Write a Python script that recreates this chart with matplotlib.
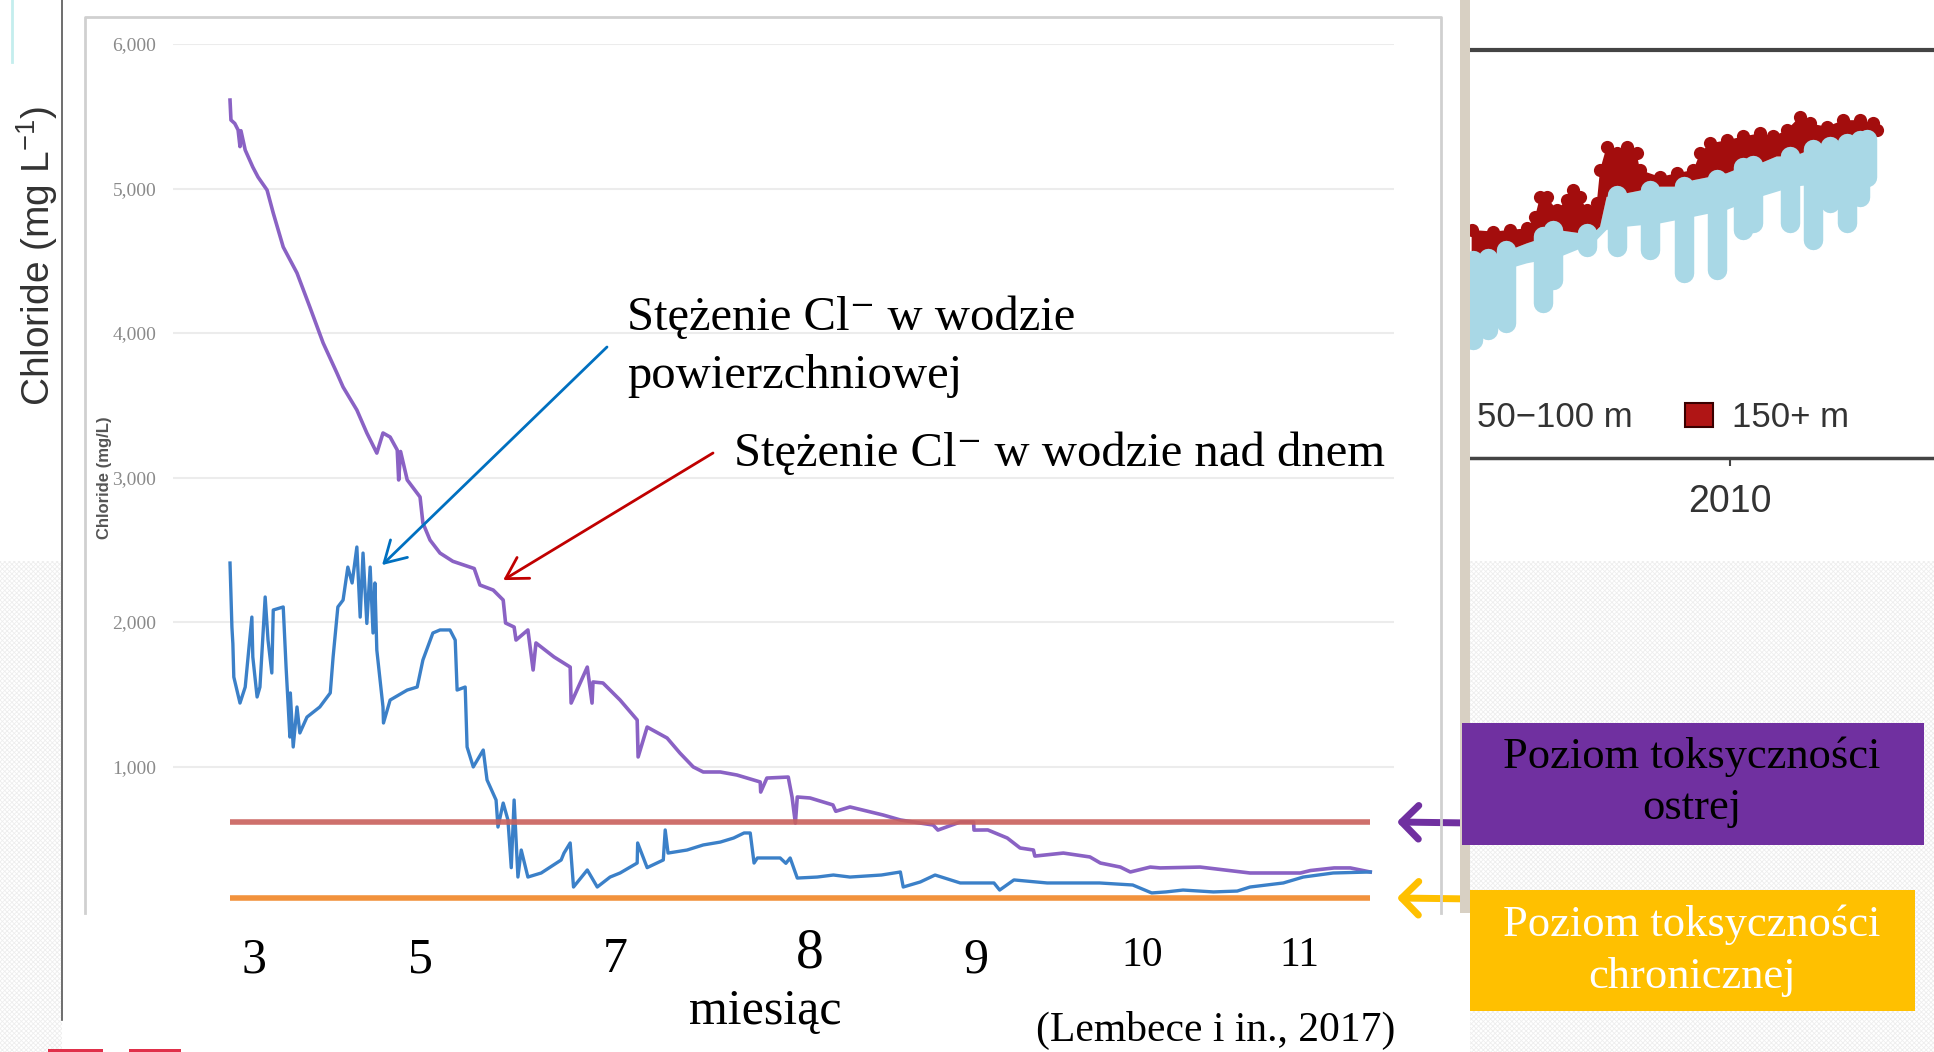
import matplotlib
matplotlib.use('Agg')
import matplotlib.pyplot as plt
import numpy as np
from matplotlib.patches import Rectangle
from matplotlib.lines import Line2D
from matplotlib.transforms import blended_transform_factory

plt.rcParams['mathtext.fontset'] = 'custom'
plt.rcParams['mathtext.rm'] = 'Liberation Sans'
plt.rcParams['mathtext.default'] = 'rm'
plt.rcParams['hatch.linewidth'] = 0.6

SERIF = ['Liberation Serif', 'DejaVu Serif']
SANS = ['Liberation Sans', 'DejaVu Sans']

# --- main chart: chloride (mg/L) vs day of record ---
bottom_days = [0, 0.2, 1, 1.7, 2.1, 2.3, 3.2, 4.8, 5.9, 7.8, 9.1, 11.2, 14.1, 16.8, 19.6, 22.5, 23.8,
               26.7, 28.8, 30.9, 32.2, 33.7, 35.2, 35.5, 35.9, 37.3, 40, 40.6, 42.1, 44.2, 46.9, 51.4,
               52.6, 55.4, 57.5, 58, 59.8, 60.2, 62.7, 63.8, 64.4, 68.2, 71.6, 71.8, 75.2, 76.2, 76.4,
               78.5, 82.1, 85.7, 85.9, 87.8, 92, 94.7, 97.5, 99.6, 103.2, 106.7, 111.6, 111.7, 113,
               117.5, 118.3, 119, 119.4, 122.1, 126.9, 127.5, 130.5, 137.5, 141.1, 143.8, 148, 149,
               153.7, 156.5, 156.6, 159.5, 163.6, 166.3, 169.1, 169.4, 175.4, 181, 183.2, 187.4,
               189.5, 193.7, 195.8, 204.2, 214.7, 225.3, 227.4, 232.4, 235.8, 240]
bottom_cl = [5612, 5474, 5450, 5405, 5290, 5400, 5266, 5148, 5079, 4989, 4830, 4595, 4415, 4180, 3931,
             3723, 3626, 3467, 3308, 3169, 3308, 3280, 3190, 2983, 3180, 2983, 2865, 2685, 2567, 2477,
             2420, 2370, 2256, 2221, 2152, 1993, 1965, 1875, 1945, 1668, 1855, 1758, 1688, 1439, 1688,
             1439, 1585, 1578, 1460, 1322, 1066, 1273, 1197, 1093, 997, 962, 962, 941, 893, 823, 920,
             927, 789, 609, 789, 782, 734, 690, 720, 664, 630, 616, 595, 560, 616, 616, 560, 561, 505,
             436, 422, 380, 401, 374, 332, 304, 270, 304, 298, 304, 263, 263, 280, 298, 298, 270]

surface_days = [0, 0.4, 0.6, 0.8, 2.1, 3.2, 4.6, 4.8, 5.7, 6.3, 7.4, 8, 8.8, 9.1, 11.2, 11.8, 12.6, 12.7,
                13.3, 14.1, 14.7, 16.2, 18.9, 21.1, 21.7, 22.7, 23.8, 24.8, 25.7, 26.7, 27.4, 28, 28.8,
                29.5, 30.1, 30.5, 30.9, 32.2, 32.3, 33.7, 37.3, 39.4, 40.6, 42.7, 44.2, 46.3, 47.4, 47.8,
                49.5, 49.9, 51.2, 53.3, 54.1, 56, 56.4, 57.5, 58.5, 59.2, 59.8, 60.6, 61.3, 62.7, 65.5,
                69.7, 70.3, 71.6, 72.3, 75.2, 77.3, 80, 82.1, 85.7, 85.8, 87.8, 91.2, 91.6, 92.2, 96.2,
                99.6, 103.2, 106, 108.2, 109.5, 110.3, 111, 115.8, 117, 117.9, 119.4, 123.6, 127, 130.5,
                137.1, 141.1, 141.7, 145.3, 148.4, 153.7, 160.8, 162, 165, 172, 179, 183, 190, 194, 197,
                200.6, 207, 212, 214.7, 221.7, 225.9, 232.2, 240]
surface_cl = [2408, 1965, 1850, 1619, 1439, 1550, 2034, 1758, 1481, 1550, 2173, 1875, 1647, 2083, 2104,
              1688, 1204, 1509, 1135, 1412, 1232, 1342, 1412, 1509, 1758, 2104, 2152, 2380, 2270, 2519,
              2034, 2477, 1990, 2380, 1924, 2270, 1806, 1412, 1301, 1460, 1529, 1550, 1737, 1924, 1945,
              1945, 1875, 1529, 1550, 1135, 997, 1114, 907, 768, 581, 747, 630, 300, 768, 235, 422, 235,
              263, 353, 401, 471, 166, 284, 166, 235, 263, 332, 471, 300, 353, 561, 401, 422, 457, 477,
              505, 540, 540, 332, 367, 367, 330, 367, 228, 235, 249, 235, 249, 270, 166, 201, 249, 194,
              194, 145, 215, 194, 194, 194, 180, 125, 132, 145, 132, 138, 166, 194, 235, 263, 270]

acute_level = 616
chronic_level = 90

month_days = [5, 40, 81, 122, 157, 192, 225]
month_labels = ['3', '5', '7', '8', '9', '10', '11']
cl_ticks = [1000, 2000, 3000, 4000, 5000, 6000]

# --- cropped panel on the right: two depth classes over years ---
red_up_year = [2002.17, 2002.83, 2003.33, 2003.84, 2004.09, 2004.24, 2004.44, 2004.75, 2005.05, 2005.25,
               2005.45, 2005.66, 2005.96, 2006.06, 2006.26, 2006.57, 2006.87, 2007.17, 2007.27, 2007.88,
               2008.38, 2008.89, 2009.09, 2009.39, 2009.90, 2010.40, 2010.91, 2011.31, 2011.72, 2012.12,
               2012.42, 2012.93, 2013.43, 2013.94, 2014.34, 2014.45]
red_up = [55.9, 55.5, 55.9, 56.3, 59.1, 64.0, 64.0, 60.8, 63.2, 65.7, 64.0, 60.8, 62.4, 70.6, 76.3, 74.7,
          76.3, 74.7, 70.6, 68.9, 69.8, 70.6, 74.7, 77.1, 77.9, 78.8, 79.6, 78.8, 80.4, 83.7, 82.0, 81.2,
          82.8, 82.8, 82.0, 80.4]
red_low_year = [2002.17, 2002.83, 2003.33, 2003.84, 2004.44, 2004.75, 2005.45, 2005.96, 2006.06, 2006.26,
                2006.87, 2007.37, 2007.88, 2008.38, 2008.89, 2009.39, 2009.90, 2010.40, 2010.91, 2011.41,
                2011.92, 2012.42, 2012.93, 2013.43, 2013.94, 2014.45]
red_low = [48.5, 49.3, 51.0, 52.6, 54.2, 55.9, 55.1, 55.9, 56.7, 64.0, 64.9, 65.7, 66.5, 66.5, 68.1, 68.9,
           69.8, 71.4, 72.2, 73.9, 73.9, 75.5, 76.3, 77.1, 77.9, 78.8]
blue_low_year = [2002.17, 2002.83, 2003.84, 2004.85, 2005.86, 2006.26, 2006.87, 2007.88, 2008.89, 2009.90,
                 2010.91, 2011.92, 2012.93, 2013.94, 2014.45]
blue_low = [39.5, 45.3, 47.7, 49.3, 52.6, 55.9, 56.7, 57.5, 59.1, 60.8, 64.0, 66.5, 67.3, 70.6, 75.5]
drip_year = [2002.2, 2002.67, 2003.20, 2004.34, 2004.65, 2005.66, 2006.57, 2007.58, 2008.59, 2009.60,
             2010.40, 2010.71, 2011.82, 2012.52, 2013.03, 2013.54, 2013.94, 2014.14]
drip_top = [48.5, 49.0, 50.9, 54.3, 55.9, 55.1, 64.5, 65.8, 66.6, 68.5, 71.4, 71.9, 73.9, 75.8, 76.5,
            77.2, 77.9, 78.3]
drip_bottom = [28.9, 31.4, 33.0, 37.9, 43.6, 51.8, 51.8, 51.0, 45.3, 46.1, 55.9, 57.5, 57.5, 53.4, 62.4,
               57.5, 64.0, 68.9]

W, H = 1934, 1052


def fx(px):
    return px / W


def fy(py):
    return 1 - py / H


fig = plt.figure(figsize=(W / 100, H / 100), dpi=100)

# slide background texture
for x0, x1 in [(0, 62), (1470, 1934)]:
    fig.add_artist(Rectangle((fx(x0), fy(1052)), fx(x1) - fx(x0), fy(561) - fy(1052),
                             transform=fig.transFigure, facecolor='white', edgecolor='#eeeeee',
                             hatch='x' * 7, lw=0, zorder=0))

# decorations of the pasted images
fig.add_artist(Line2D([fx(85), fx(85), fx(1441), fx(1441)], [fy(913), fy(17), fy(17), fy(913)],
                      transform=fig.transFigure, color='#d0d0d0', lw=2))
fig.add_artist(Line2D([fx(62), fx(62)], [fy(0), fy(1020)], transform=fig.transFigure, color='#555555', lw=1.2))
fig.add_artist(Line2D([fx(12), fx(12)], [fy(0), fy(62)], transform=fig.transFigure, color='#c4eeee', lw=2))
fig.add_artist(Rectangle((fx(1460), fy(913)), fx(10), fy(0) - fy(913), transform=fig.transFigure,
                         facecolor='#d8d0c3', lw=0))
for x0, x1 in [(48, 103), (129, 181)]:
    fig.add_artist(Rectangle((fx(x0), 0), fx(x1) - fx(x0), 3 / H, transform=fig.transFigure,
                             facecolor='#e0304a', lw=0))

# main chart
ax = fig.add_axes([fx(173), fy(911), fx(1394) - fx(173), (911 - 44) / H])
ax.set_xlim(-12, 245)
ax.set_ylim(0, 6000)
for s in ax.spines.values():
    s.set_visible(False)
ax.set_xticks([])
ax.set_yticks(cl_ticks)
ax.set_yticklabels(['{:,}'.format(t) for t in cl_ticks], family=SERIF)
ax.tick_params(axis='y', length=0, pad=12, labelsize=14, labelcolor='#8a8a8a')
ax.grid(axis='y', color='#ececec', lw=1.5)
ax.set_axisbelow(True)

ax.plot(bottom_days, bottom_cl, color='#8a62c4', lw=2.6)
ax.plot(surface_days, surface_cl, color='#3b80c8', lw=2.4)
ax.hlines(acute_level, bottom_days[0], bottom_days[-1], color='#c9605c', lw=4, alpha=0.9)
ax.hlines(chronic_level, bottom_days[0], bottom_days[-1], color='#f2923c', lw=4)

fig.text(fx(105), fy(478), 'Chloride (mg/L)', rotation=90, ha='center', va='center', fontsize=12,
         fontweight='bold', color='#555555', family=SANS)
fig.text(fx(37), fy(256), r'Chloride (mg L$^{-1}$)', rotation=90, ha='center', va='center',
         fontsize=28, color='#333333', family=SANS)

trans = blended_transform_factory(ax.transData, fig.transFigure)
for d, lab in zip(month_days, month_labels):
    size = 36
    ypos = 960
    if lab == '8':
        size, ypos = 40, 954
    elif lab in ('10', '11'):
        size, ypos = 30, 956
    ax.text(d, fy(ypos), lab, transform=trans, ha='center', va='center', fontsize=size, family=SERIF)

fig.text(fx(765), fy(1011), 'miesiąc', ha='center', va='center', fontsize=36, family=SERIF)
fig.text(fx(1036), fy(1030), '(Lembece i in., 2017)', ha='left', va='center', fontsize=30, family=SERIF)

# annotations
fig.text(fx(627), fy(318), 'Stężenie Cl\u207b w wodzie', ha='left', va='center', fontsize=35, family=SERIF)
fig.text(fx(627), fy(376), 'powierzchniowej', ha='left', va='center', fontsize=35, family=SERIF)
fig.text(fx(734), fy(454), 'Stężenie Cl\u207b w wodzie nad dnem', ha='left', va='center', fontsize=35,
         family=SERIF)
ax.annotate('', xy=(32, 2394), xytext=(fx(607), fy(347)), textcoords='figure fraction',
            arrowprops=dict(arrowstyle='->, head_length=0.6, head_width=0.35', color='#0070c0', lw=2,
                            mutation_scale=25, shrinkA=0, shrinkB=0))
ax.annotate('', xy=(57.5, 2290), xytext=(fx(713), fy(453)), textcoords='figure fraction',
            arrowprops=dict(arrowstyle='->, head_length=0.6, head_width=0.35', color='#c00000', lw=2,
                            mutation_scale=25, shrinkA=0, shrinkB=0))

# toxicity boxes
fig.add_artist(Rectangle((fx(1462), fy(845)), fx(1924) - fx(1462), fy(723) - fy(845),
                         transform=fig.transFigure, facecolor='#7030a0', lw=0, zorder=2))
fig.text(fx(1692), fy(757), 'Poziom toksyczności', ha='center', va='center', fontsize=32, family=SERIF,
         color='black', zorder=3)
fig.text(fx(1692), fy(808), 'ostrej', ha='center', va='center', fontsize=32, family=SERIF, color='black',
         zorder=3)
fig.add_artist(Rectangle((fx(1470), fy(1011)), fx(1915) - fx(1470), fy(890) - fy(1011),
                         transform=fig.transFigure, facecolor='#ffc000', lw=0, zorder=2))
fig.text(fx(1692), fy(925), 'Poziom toksyczności', ha='center', va='center', fontsize=32, family=SERIF,
         color='white', zorder=3)
fig.text(fx(1692), fy(977), 'chronicznej', ha='center', va='center', fontsize=32, family=SERIF,
         color='white', zorder=3)
ax.annotate('', xy=(245.6, acute_level), xytext=(fx(1470), fy(823)), textcoords='figure fraction',
            annotation_clip=False,
            arrowprops=dict(arrowstyle='->, head_length=0.55, head_width=0.55', color='#7030a0', lw=5,
                            mutation_scale=22, shrinkA=0, shrinkB=0))
ax.annotate('', xy=(245.6, chronic_level), xytext=(fx(1475), fy(899)), textcoords='figure fraction',
            annotation_clip=False,
            arrowprops=dict(arrowstyle='->, head_length=0.55, head_width=0.55', color='#ffc000', lw=5,
                            mutation_scale=22, shrinkA=0, shrinkB=0))

# right panel (cropped figure)
ax2 = fig.add_axes([fx(1470), fy(458), fx(1934) - fx(1470), (458 - 50) / H])
ax2.set_xlim(2002.12, 2016.18)
ax2.set_ylim(0, 100)
ax2.spines['left'].set_visible(False)
ax2.spines['right'].set_color('#e6e6e6')
ax2.spines['top'].set_color('#444444')
ax2.spines['top'].set_linewidth(3)
ax2.spines['bottom'].set_color('#444444')
ax2.spines['bottom'].set_linewidth(2.5)
ax2.set_yticks([])
ax2.set_xticks([2010])
ax2.set_xticklabels(['2010'], family=SANS)
ax2.tick_params(axis='x', length=6, width=1.5, color='#444444', labelsize=27, labelcolor='#333333', pad=13)

ax2.vlines(drip_year, drip_bottom, drip_top, color='#a9d8e6', lw=14, capstyle='round')
ax2.fill(np.concatenate([blue_low_year, red_low_year[::-1]]), np.concatenate([blue_low, red_low[::-1]]),
         color='#a9d8e6', lw=0)
ax2.fill(np.concatenate([red_up_year, red_low_year[::-1]]), np.concatenate([red_up, red_low[::-1]]),
         color='#a30d0d', lw=0)
ax2.scatter(red_up_year, red_up, s=90, color='#a30d0d', lw=0)

ax2.text(0.351, 0.10, '50\u2212100 m', transform=ax2.transAxes, ha='right', va='center', fontsize=25,
         family=SANS, color='#333333', clip_on=True)
ax2.add_patch(Rectangle((0.463, 0.076), 0.061, 0.059, transform=ax2.transAxes, facecolor='#b01515',
                        edgecolor='#3a0000', lw=1.5))
ax2.text(0.565, 0.10, '150+ m', transform=ax2.transAxes, ha='left', va='center', fontsize=25,
         family=SANS, color='#333333')

fig.savefig('out.png', dpi=100)
